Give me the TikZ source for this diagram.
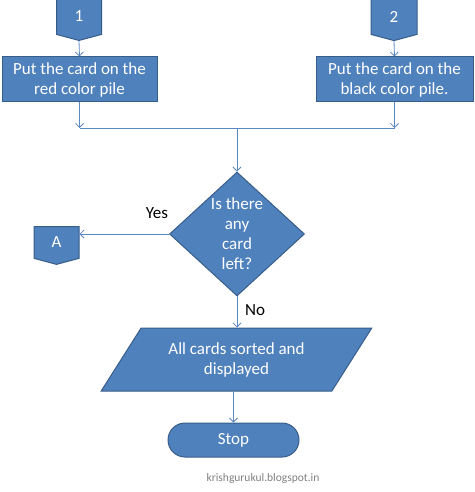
\documentclass[tikz,border=0pt]{standalone}
\usepackage{fontspec}
\setmainfont{Carlito}
\usepackage{tikz}
\usetikzlibrary{shapes.geometric,shapes.symbols,shapes.misc,arrows.meta}
\definecolor{boxblue}{HTML}{4F81BD}
\definecolor{edgeblue}{HTML}{385D8A}
\definecolor{lineblue}{HTML}{5B87C2}
\tikzset{
  shapebox/.style={fill=boxblue, draw=edgeblue, line width=1pt, text=white,
    font=\fontsize{17}{20}\selectfont, align=center, inner sep=0pt},
  offpage/.style={shapebox, signal, signal to=south, signal pointer angle=150},
  flow/.style={draw=lineblue, line width=0.8pt, -{Straight Barb[length=4pt,width=8pt]}},
  plain/.style={draw=lineblue, line width=0.8pt},
  tag/.style={font=\fontsize{17}{20}\selectfont, text=black}
}
\begin{document}
\begin{tikzpicture}[x=1pt,y=-1pt]
\useasboundingbox (0,0) rectangle (474,492);
\node[offpage, minimum width=45pt, minimum height=37pt] (con1) at (79,16.5) {1};
\node[offpage, minimum width=46pt, minimum height=37pt] (con2) at (394,16.5) {2};
\node[shapebox, rectangle, minimum width=155pt, minimum height=45pt] (red) at (79.5,79.5) {Put the card on the\\red color pile};
\node[shapebox, rectangle, minimum width=157pt, minimum height=45pt] (black) at (394.5,79.5) {Put the card on the\\black color pile.};
\coordinate (mergeL) at (79.5,128);
\coordinate (mergeR) at (394.5,128);
\coordinate (mergeM) at (237,128);
\node[shapebox, diamond, minimum width=135pt, minimum height=122pt] (check) at (237,234) {Is there\\any\\card\\left?};
\node[offpage, minimum width=45pt, minimum height=33pt] (conA) at (56.5,242.5) {A};
\node[shapebox, trapezium, trapezium left angle=50.5, trapezium right angle=129.5,
  trapezium stretches=true, minimum width=271pt, minimum height=63pt] (done) at (236.5,359.5) {All cards sorted and\\displayed};
\node[shapebox, rounded rectangle, minimum width=131pt, minimum height=34pt] (stop) at (233.5,440) {Stop};
\node[tag] (yes) at (157,213) {Yes};
\node[tag] (no) at (255,310) {No};
\node[font=\fontsize{11.5}{13}\selectfont, text=gray] (site) at (263,478) {krishgurukul.blogspot.in};

\draw[flow] (con1.south) -- (red.north);
\draw[flow] (con2.south) -- (black.north);
\draw[flow] (red.south) -- (mergeL);
\draw[flow] (black.south) -- (mergeR);
\draw[plain] (mergeL) -- (mergeR);
\draw[flow] (mergeM) -- (check.north);
\draw[flow] (check.west) -- (conA.east |- check.west);
\draw[flow] (check.south) -- (done.north -| check.south);
\draw[flow] (done.south -| stop.north) -- (stop.north);
\end{tikzpicture}
\end{document}
